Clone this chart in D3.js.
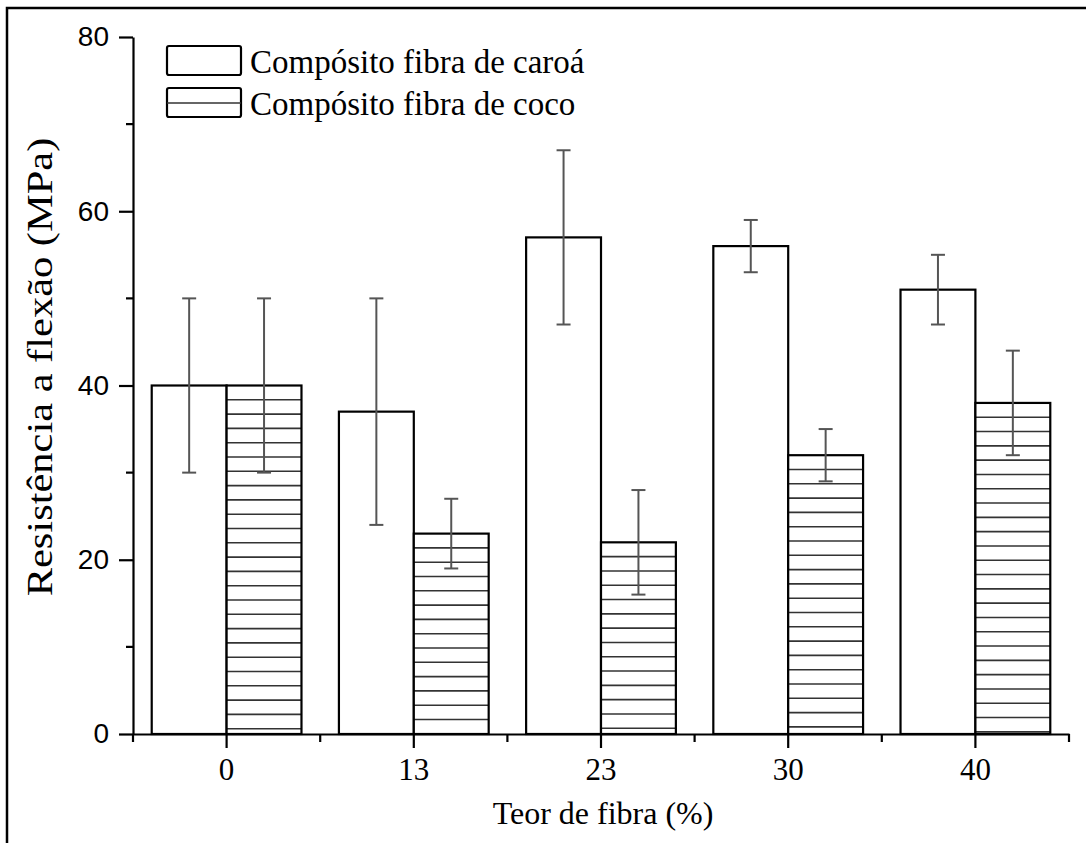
<!DOCTYPE html>
<html>
<head>
<meta charset="utf-8">
<script src="https://cdn.jsdelivr.net/npm/d3@7"></script>
<style>
  body { margin: 0; background: #fff; }
  svg { display: block; }
</style>
</head>
<body>
<script>
// data
var categories = ["0", "13", "23", "30", "40"];
var caroa = [40, 37, 57, 56, 51];
var caroaLow = [30, 24, 47, 53, 47];
var caroaHigh = [50, 50, 67, 59, 55];
var coco = [40, 23, 22, 32, 38];
var cocoLow = [30, 19, 16, 29, 32];
var cocoHigh = [50, 27, 28, 35, 44];
var yTicks = [0, 20, 40, 60, 80];
var yMinor = [10, 30, 50, 70];
var seriesNames = ["Compósito fibra de caroá", "Compósito fibra de coco"];

var width = 1086,
    height = 843;

var svg = d3.select("body")
    .append("svg")
    .attr("width", width)
    .attr("height", height);

// outer frame (only left and top show in the picture)
svg.append("rect")
    .attr("x", 7)
    .attr("y", 8)
    .attr("width", 1200)
    .attr("height", 1000)
    .attr("fill", "none")
    .attr("stroke", "#000")
    .attr("stroke-width", 2.5);

var x = d3.scaleBand()
    .domain(categories)
    .range([133, 1069])
    .padding(0);

var y = d3.scaleLinear()
    .domain([0, 80])
    .range([734, 37]);

var barW = x.bandwidth() * 0.4;
var serif = "'Liberation Serif', 'Times New Roman', serif";
var sans = "'Liberation Sans', Arial, sans-serif";

var g = svg.append("g");

function hatch(sel, top, bottom, left, w) {
    var step = 14.3;
    sel.selectAll(null)
      .data(d3.range(top + step, bottom - 1, step))
      .enter().append("line")
        .attr("x1", left)
        .attr("x2", left + w)
        .attr("y1", function(d) { return d; })
        .attr("y2", function(d) { return d; })
        .attr("stroke", "#333")
        .attr("stroke-width", 1.6);
}

// bars
categories.forEach(function(c, i) {
    var cx = x(c) + x.bandwidth() / 2;

    g.append("rect")
        .attr("x", cx - barW)
        .attr("y", y(caroa[i]))
        .attr("width", barW)
        .attr("height", y(0) - y(caroa[i]))
        .attr("fill", "#fff")
        .attr("stroke", "#000")
        .attr("stroke-width", 2.2);

    var hb = g.append("g");
    hb.append("rect")
        .attr("x", cx)
        .attr("y", y(coco[i]))
        .attr("width", barW)
        .attr("height", y(0) - y(coco[i]))
        .attr("fill", "#fff");
    hatch(hb, y(coco[i]), y(0), cx, barW);
    hb.append("rect")
        .attr("x", cx)
        .attr("y", y(coco[i]))
        .attr("width", barW)
        .attr("height", y(0) - y(coco[i]))
        .attr("fill", "none")
        .attr("stroke", "#000")
        .attr("stroke-width", 2.2);
});

// error bars
function errorBar(xc, lo, hi) {
    var e = g.append("g")
        .attr("stroke", "#555")
        .attr("stroke-width", 2);
    e.append("line").attr("x1", xc).attr("x2", xc).attr("y1", y(lo)).attr("y2", y(hi));
    e.append("line").attr("x1", xc - 7).attr("x2", xc + 7).attr("y1", y(lo)).attr("y2", y(lo));
    e.append("line").attr("x1", xc - 7).attr("x2", xc + 7).attr("y1", y(hi)).attr("y2", y(hi));
}
categories.forEach(function(c, i) {
    var cx = x(c) + x.bandwidth() / 2;
    errorBar(cx - barW / 2, caroaLow[i], caroaHigh[i]);
    errorBar(cx + barW / 2, cocoLow[i], cocoHigh[i]);
});

// x axis
var xAxis = g.append("g")
    .attr("transform", "translate(0," + y(0) + ")")
    .call(d3.axisBottom(x).tickSize(14).tickSizeOuter(0).tickPadding(10));
xAxis.select(".domain").attr("stroke-width", 2.2);
xAxis.selectAll(".tick line").attr("stroke-width", 2.2);
xAxis.selectAll(".tick text")
    .attr("font-family", serif)
    .attr("font-size", 31)
    .attr("fill", "#000");
xAxis.selectAll(".minor")
    .data(categories.map(function(c) { return x(c); }).concat([x.range()[1]]))
    .enter().append("line")
      .attr("class", "minor")
      .attr("x1", function(d) { return d; })
      .attr("x2", function(d) { return d; })
      .attr("y1", 0)
      .attr("y2", 8)
      .attr("stroke", "#000")
      .attr("stroke-width", 2.2);

// y axis
var yAxis = g.append("g")
    .attr("transform", "translate(133,0)")
    .call(d3.axisLeft(y).tickValues(yTicks).tickSize(14).tickSizeOuter(0).tickPadding(10));
yAxis.select(".domain").attr("stroke-width", 2.2);
yAxis.selectAll(".tick line").attr("stroke-width", 2.2);
yAxis.selectAll(".tick text")
    .attr("font-family", sans)
    .attr("font-size", 28)
    .attr("fill", "#000");
yAxis.selectAll(".minor")
    .data(yMinor)
    .enter().append("line")
      .attr("class", "minor")
      .attr("x1", -7)
      .attr("x2", 0)
      .attr("y1", function(d) { return y(d); })
      .attr("y2", function(d) { return y(d); })
      .attr("stroke", "#000")
      .attr("stroke-width", 2.2);

// axis titles
svg.append("text")
    .attr("x", 603)
    .attr("y", 824)
    .attr("text-anchor", "middle")
    .attr("font-family", serif)
    .attr("font-size", 32)
    .text("Teor de fibra (%)");

// the y title is stretched along its length in the picture
svg.append("text")
    .attr("transform", "translate(52,367) rotate(-90) scale(1.18,1)")
    .attr("text-anchor", "middle")
    .attr("font-family", serif)
    .attr("font-size", 36)
    .text("Resistência a flexão (MPa)");

// legend
var legend = svg.append("g");
seriesNames.forEach(function(name, i) {
    var ly = 46 + i * 42;
    var lg = legend.append("g");
    lg.append("rect")
        .attr("x", 167)
        .attr("y", ly)
        .attr("width", 74)
        .attr("height", 29)
        .attr("rx", 2)
        .attr("fill", "#fff")
        .attr("stroke", "#000")
        .attr("stroke-width", 2.2);
    if (i === 1) {
        lg.append("line")
            .attr("x1", 167).attr("x2", 241)
            .attr("y1", ly + 15).attr("y2", ly + 15)
            .attr("stroke", "#333")
            .attr("stroke-width", 1.6);
    }
    lg.append("text")
        .attr("x", 250)
        .attr("y", ly + 27)
        .attr("font-family", serif)
        .attr("font-size", 33)
        .text(name);
});
</script>
</body>
</html>
